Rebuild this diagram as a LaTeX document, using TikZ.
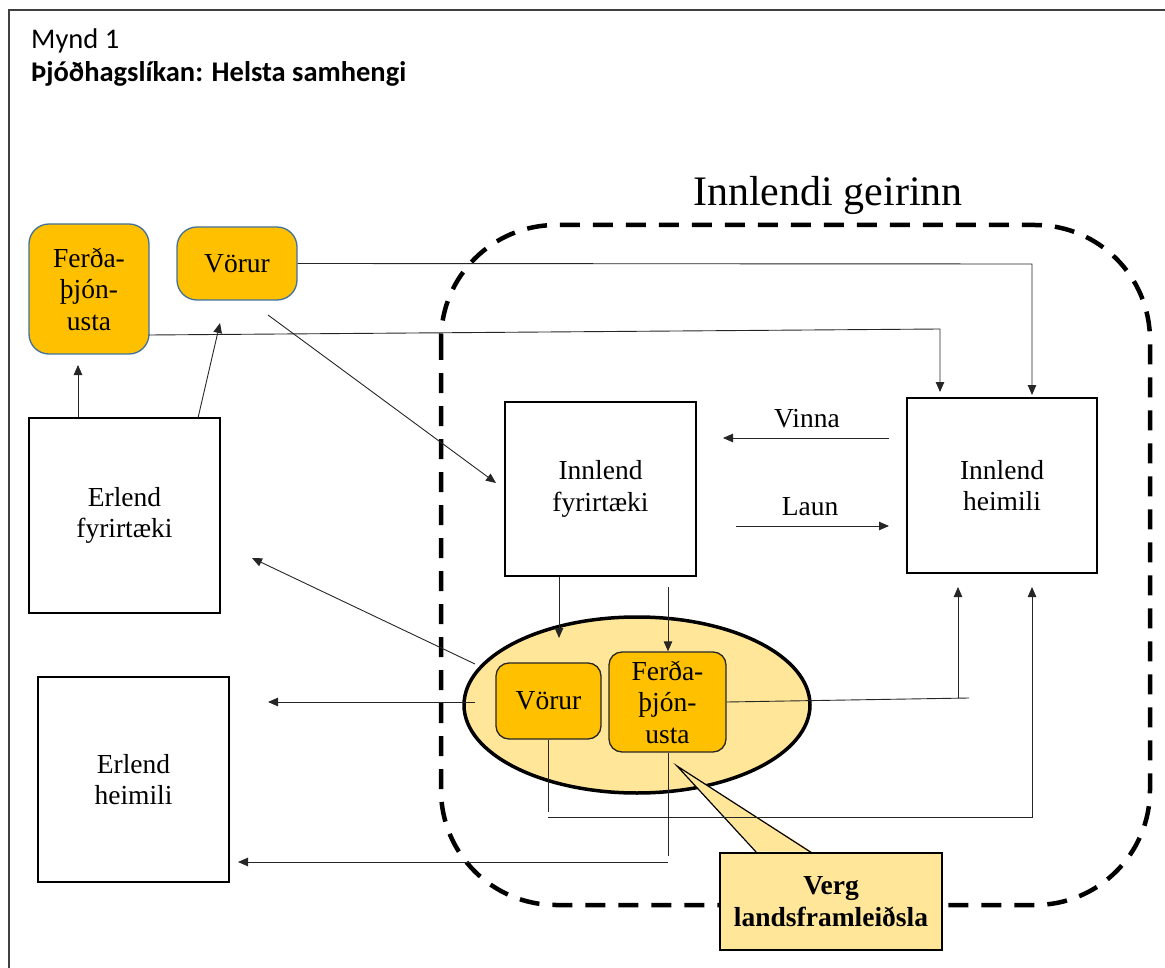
\documentclass[tikz,border=0pt]{standalone}
\usepackage{fontspec}
\setmainfont{Liberation Serif}
\newfontfamily\calfont{Carlito}
\usetikzlibrary{arrows.meta,shapes.geometric}
\definecolor{gold}{HTML}{FFC000}
\definecolor{paleyellow}{HTML}{FFE699}
\definecolor{boxblue}{HTML}{41719C}
\begin{document}
\begin{tikzpicture}[x=1pt,y=-1pt,
  every node/.style={font=\fontsize{27.5}{31.5}\selectfont},
  plainbox/.style={draw, line width=1.3pt, align=center, inner sep=0pt, fill=white},
  topbox/.style={draw=boxblue, line width=1.3pt, fill=gold, rounded corners=20pt, align=center, inner sep=0pt},
  innerbox/.style={draw=black!85, line width=1.3pt, fill=gold, rounded corners=13pt, align=center, inner sep=0pt},
  arr/.style={line width=0.9pt, black!85, -{Triangle[length=10pt,width=8.5pt]}},
  ln/.style={line width=0.9pt, black!85},
  lbl/.style={anchor=base, inner sep=0pt}
]
\useasboundingbox (0,0) rectangle (1165,968);
% frame
\draw[line width=1.3pt, black!75] (9,968) -- (9,10) -- (1165,10);
% titles
\node[anchor=base west, inner sep=0pt, font=\calfont\fontsize{28.5}{32}\selectfont] (t1) at (31,49) {Mynd 1};
\node[anchor=base west, inner sep=0pt, font=\calfont\bfseries\fontsize{28.5}{32}\selectfont] (t2) at (31,82) {Þjóðhagslíkan: Helsta samhengi};
% domestic sector
\draw[line width=4.5pt, dash pattern=on 20pt off 13pt, rounded corners=115pt] (441,225) rectangle (1150,905);
\node[lbl, font=\fontsize{42}{48}\selectfont] (geir) at (828,206) {Innlendi geirinn};
% boxes
\node[plainbox, minimum width=191pt, minimum height=195pt] (ef) at (124.5,515.5) {Erlend\\fyrirtæki};
\node[plainbox, minimum width=191pt, minimum height=205pt] (eh) at (133.5,779.5) {Erlend\\heimili};
\node[plainbox, minimum width=191pt, minimum height=174pt] (inf) at (600.5,489) {Innlend\\fyrirtæki};
\node[plainbox, minimum width=190pt, minimum height=175pt] (inh) at (1002,485.5) {Innlend\\heimili};
\node[topbox, minimum width=120pt, minimum height=130pt] (tf) at (89,289) {Ferða-\\þjón-\\usta};
\node[topbox, minimum width=120pt, minimum height=73pt] (tv) at (237,263.5) {Vörur};
\node[ellipse, draw, line width=3.5pt, fill=paleyellow, minimum width=346pt, minimum height=176pt, inner sep=0pt] (gdp) at (637,705) {};
\node[innerbox, minimum width=105pt, minimum height=76pt] (iv) at (548.5,701) {Vörur};
\node[innerbox, minimum width=117pt, minimum height=100pt] (if) at (667.5,702) {Ferða-\\þjón-\\usta};
% callout
\node[draw, line width=1.2pt, fill=paleyellow, minimum width=222pt, minimum height=97pt, inner sep=0pt, align=center, font=\bfseries\fontsize{27.5}{31.5}\selectfont] (vl) at (831,901.5) {Verg\\landsframleiðsla};
\coordinate (ptip) at (677,766);
\coordinate (pl) at (757,853);
\coordinate (pr) at (812,853);
\fill[paleyellow] ([yshift=1.5pt]pl) -- (ptip) -- ([yshift=1.5pt]pr) -- cycle;
\draw[line width=1.2pt] (pl) -- (ptip) -- (pr);
% connectors
\coordinate (c1) at (78,365);
\draw[arr] (ef.north -| c1) -- (c1);
\coordinate (c2s) at (198,418);
\coordinate (c2e) at (220,323);
\draw[arr] (c2s) -- (c2e);
\coordinate (c3s) at (149,335);
\coordinate (c3m) at (940,329);
\coordinate (c3e) at (940,392);
\draw[arr] (c3s) -- (c3m) -- (c3e);
\coordinate (c4m) at (1032,264);
\coordinate (c4e) at (1032,395);
\draw[arr] (tv.east) -- (c4m) -- (c4e);
\coordinate (c5s) at (268,315);
\coordinate (c5e) at (496,483);
\draw[arr] (c5s) -- (c5e);
\coordinate (v1) at (889,438);
\coordinate (v2) at (723,438);
\draw[arr] (v1) -- (v2);
\node[lbl] (vinna) at (807,427) {Vinna};
\coordinate (l1) at (736,526);
\coordinate (l2) at (889,526);
\draw[arr] (l1) -- (l2);
\node[lbl] (laun) at (810,515) {Laun};
\coordinate (d1) at (559,638);
\draw[arr] (inf.south -| d1) -- (d1);
\coordinate (d2s) at (668,587);
\draw[arr] (d2s) -- (if.north -| d2s);
\coordinate (e1) at (969,698);
\coordinate (e1v) at (958,698);
\coordinate (e1t) at (958,587);
\draw[ln] (if.east) -- (e1);
\draw[arr] (e1v) -- (e1t);
\coordinate (f1) at (548,812);
\draw[ln] (iv.south -| f1) -- (f1);
\coordinate (f2) at (548,817);
\coordinate (f3) at (1032,817);
\coordinate (f4) at (1032,587);
\draw[arr] (f2) -- (f3) -- (f4);
\coordinate (g1) at (475,702);
\coordinate (g2) at (268,702);
\draw[arr] (g1) -- (g2);
\coordinate (h1) at (475,664);
\coordinate (h2) at (252,558);
\draw[arr] (h1) -- (h2);
\coordinate (k1) at (668,856);
\draw[ln] (if.south -| k1) -- (k1);
\coordinate (k2) at (668,862);
\coordinate (k3) at (238,862);
\draw[arr] (k2) -- (k3);
\end{tikzpicture}
\end{document}
